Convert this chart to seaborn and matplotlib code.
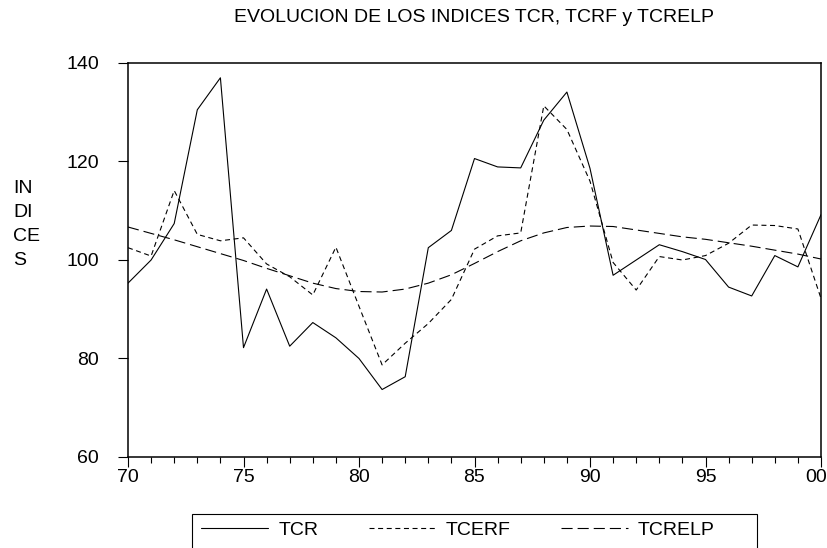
import matplotlib
matplotlib.use("Agg")
import matplotlib.pyplot as plt
from matplotlib.patches import Rectangle
from matplotlib.ticker import MultipleLocator
from matplotlib.transforms import ScaledTranslation
import seaborn as sns
import pandas as pd

years = list(range(1970, 2001))
tcr = [95.3, 100.0, 107.4, 130.5, 137.0, 82.2, 94.1, 82.5, 87.3, 84.2,
       80.0, 73.7, 76.3, 102.5, 106.0, 120.6, 118.9, 118.7, 128.4, 134.1,
       118.6, 96.9, 100.0, 103.1, 101.7, 100.1, 94.5, 92.7, 100.9, 98.6, 109.2]
tcerf = [102.5, 100.8, 114.1, 105.2, 103.9, 104.5, 99.2, 96.6, 92.9, 102.6,
         90.6, 78.7, 83.1, 87.1, 92.0, 102.2, 104.9, 105.5, 131.3, 126.5,
         116.0, 99.5, 93.9, 100.7, 100.0, 100.9, 103.4, 107.1, 107.0, 106.3, 92.2]
tcrelp = [106.7, 105.4, 104.1, 102.7, 101.3, 99.9, 98.3, 96.8, 95.3, 94.2,
          93.6, 93.5, 94.1, 95.3, 97.0, 99.3, 101.7, 103.9, 105.5, 106.6,
          106.9, 106.8, 106.1, 105.4, 104.7, 104.2, 103.5, 102.8, 102.0, 101.2, 100.2]
series_names = ["TCR", "TCERF", "TCRELP"]
xtick_vals = [1970, 1975, 1980, 1985, 1990, 1995, 2000]
xtick_labels = ["70", "75", "80", "85", "90", "95", "00"]
ytick_vals = [60, 80, 100, 120, 140]
title = "EVOLUCION DE LOS INDICES TCR, TCRF y TCRELP"
ylabel = "IN\nDI\nCE\nS"

df = pd.DataFrame({
    "year": years * 3,
    "value": tcr + tcerf + tcrelp,
    "serie": [series_names[0]] * len(years) + [series_names[1]] * len(years) + [series_names[2]] * len(years),
})

sns.set_theme(style="white")
plt.rcParams["font.family"] = ["Liberation Sans", "DejaVu Sans"]
plt.rcParams["lines.scale_dashes"] = False
FS = 14

fig = plt.figure(figsize=(8.27, 5.48), dpi=100)
ax = fig.add_axes([128/827, 1-457/548, (821-128)/827, (457-63)/548])

sns.lineplot(data=df, x="year", y="value", style="serie", hue="serie",
             palette={n: "black" for n in series_names},
             dashes={"TCR": "", "TCERF": (3.6, 2.6), "TCRELP": (8.0, 3.6)},
             linewidth=0.8, ax=ax)

handles, labels = ax.get_legend_handles_labels()
ax.get_legend().remove()

ax.set_xlim(1970, 2000)
ax.set_ylim(60, 140)
ax.set_xticks(xtick_vals)
ax.set_xticklabels(xtick_labels)
ax.xaxis.set_minor_locator(MultipleLocator(1))
ax.set_yticks(ytick_vals)
ax.set_xlabel("")
ax.set_ylabel("")
for s in ax.spines.values():
    s.set_visible(True)
    s.set_color("black")
    s.set_linewidth(1.1)
ax.tick_params(axis="x", which="major", direction="out", length=7, width=0.8,
               color="black", labelsize=FS, pad=1.5, bottom=True, top=False,
               labelcolor="black")
ax.tick_params(axis="x", which="minor", direction="out", length=4, width=0.8,
               color="black", bottom=True, top=False)
ax.tick_params(axis="y", which="major", direction="out", length=7, width=0.8,
               color="black", labelsize=FS, pad=14, left=True, right=False,
               labelcolor="black")
ax.grid(False)

last = ax.xaxis.get_major_ticks()[-1].label1
last.set_transform(last.get_transform() + ScaledTranslation(-5/100, 0, fig.dpi_scale_trans))

fig.text(474/827, 1-18/548, title, ha="center", va="center", fontsize=FS, color="black")
fig.text(13/827, 1-180/548, ylabel, ha="left", va="top", fontsize=FS,
         linespacing=1.55, color="black")

fig.legend(handles, labels, ncol=3, loc="center",
           bbox_to_anchor=(458/827, 1-530/548), frameon=False,
           handlelength=3.45, handletextpad=0.5, columnspacing=2.6,
           fontsize=FS, labelcolor="black")
fig.patches.append(Rectangle((192/827, -0.05), (757-192)/827, 0.05 + 34/548,
                             transform=fig.transFigure, fill=False,
                             edgecolor="black", linewidth=0.8))

fig.savefig("out.png", dpi=100)
